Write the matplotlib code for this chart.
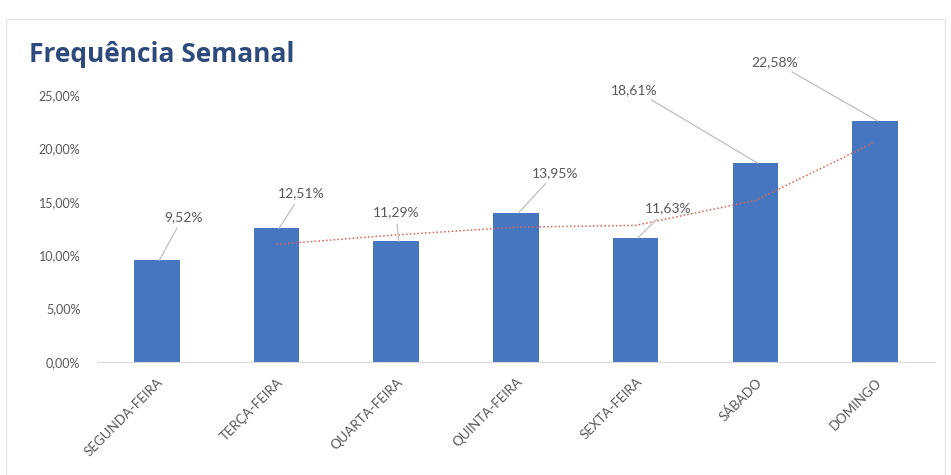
import matplotlib
matplotlib.use("Agg")
import matplotlib.pyplot as plt
import numpy as np
from matplotlib.patches import Rectangle

plt.rcParams['font.family'] = ['Lato', 'DejaVu Sans']

categories = ["SEGUNDA-FEIRA", "TERÇA-FEIRA", "QUARTA-FEIRA", "QUINTA-FEIRA",
              "SEXTA-FEIRA", "SÁBADO", "DOMINGO"]
values = [9.52, 12.51, 11.29, 13.95, 11.63, 18.61, 22.58]
yticks = [0, 5, 10, 15, 20, 25]
ytick_labels = ["0,00%", "5,00%", "10,00%", "15,00%", "20,00%", "25,00%"]
label_texts = ["9,52%", "12,51%", "11,29%", "13,95%", "11,63%", "18,61%", "22,58%"]
# label positions (x, y)
label_pos = [(0.22, 13.6), (1.21, 15.8), (2.0, 14.0), (3.33, 17.7),
             (4.27, 14.4), (3.99, 25.5), (5.16, 28.1)]

fig = plt.figure(figsize=(9.51, 4.75), dpi=100)
fig.add_artist(Rectangle((0.006, 0.0), 0.988, 0.96, transform=fig.transFigure,
                         fill=False, edgecolor='#e3e3e3', linewidth=0.8))
ax = fig.add_axes([0.102, 0.238, 0.881, 0.562])

x = np.arange(len(categories))
ax.bar(x, values, width=0.38, color='#4676C0', zorder=2)

# 2-period moving average trendline
ma = np.convolve(values, [0.5, 0.5], mode='valid')
ax.plot(x[1:], ma, linestyle=(0, (1, 1.5)), color='#E8604C', linewidth=1.1, zorder=3)

for i, (txt, (tx, ty)) in enumerate(zip(label_texts, label_pos)):
    ax.annotate(txt, xy=(i + 0.02, values[i]), xytext=(tx, ty),
                textcoords='data', ha='center', va='center',
                fontsize=10, color='#595959', annotation_clip=False,
                arrowprops=dict(arrowstyle='-', color='#bfbfbf', lw=0.9,
                                shrinkA=2, shrinkB=0))

ax.set_xlim(-0.5, len(categories) - 0.5)
ax.set_ylim(0, 25)
ax.set_yticks(yticks)
ax.set_yticklabels(ytick_labels, fontsize=9, color='#595959')
ax.set_xticks(x)
ax.set_xticklabels(categories, rotation=45, ha='right', rotation_mode='anchor',
                   fontsize=9.5, color='#595959')
ax.tick_params(axis='y', length=0, pad=12)
ax.tick_params(axis='x', length=0, pad=10)
for s in ['top', 'right', 'left']:
    ax.spines[s].set_visible(False)
ax.spines['bottom'].set_color('#d9d9d9')

fig.text(0.03, 0.885, "Frequência Semanal", fontsize=19, fontweight='bold',
         color='#2E4A7D', ha='left', va='center', family=['Open Sans', 'DejaVu Sans'])

fig.savefig("out.png", dpi=100)
